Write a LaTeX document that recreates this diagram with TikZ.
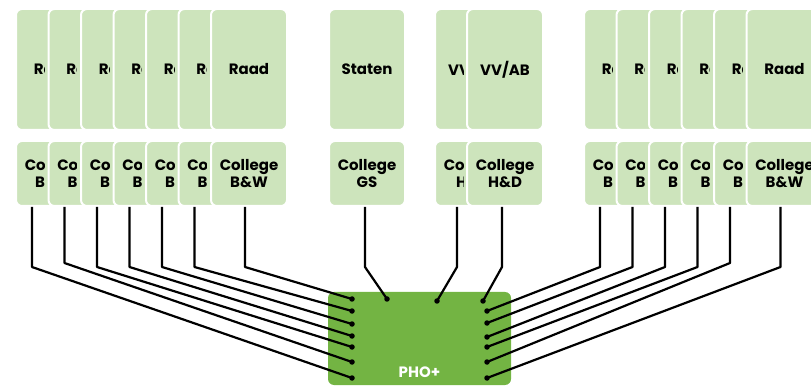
\documentclass[tikz,border=0pt]{standalone}
\usepackage{fontspec}
\setmainfont{Poppins}
\definecolor{cardgreen}{HTML}{CDE4BC}
\definecolor{phogreen}{HTML}{73B443}
\begin{document}
\begin{tikzpicture}[
    x=1pt, y=-1pt,
    font=\bfseries\fontsize{15}{17}\selectfont,
    card/.style={
      fill=cardgreen, draw=white, line width=2pt,
      rounded corners=6pt, align=center,
      minimum width=76pt, inner sep=0pt
    },
    body/.style={card, minimum height=121pt},
    college/.style={card, minimum height=65pt},
    % kaart die half onder de volgende ligt: tekst wordt afgeknipt
    cut/.style={path picture={
        \clip ([xshift=28pt]path picture bounding box.north west)
          rectangle (path picture bounding box.south west);
        \node[align=center] at (path picture bounding box.center) {#1};
      }},
    bodycut/.style={body, cut={#1}},
    collegecut/.style={college, cut={#1}},
    phobox/.style={
      fill=phogreen, rounded corners=6pt,
      minimum width=183pt, minimum height=93pt, inner sep=0pt
    },
    wire/.style={line width=2.2pt, line join=round},
    pin/.style={circle, fill=black, inner sep=0pt, minimum size=5.5pt}
  ]
    \useasboundingbox (0,0) rectangle (811,387);

    % gemeenten links
    \node[bodycut=Raad] (r1) at (54,69.5) {};
    \node[collegecut={College\\B\&W}] (c1) at (54,173.5) {};
    \node[bodycut=Raad] (r2) at (86.5,69.5) {};
    \node[collegecut={College\\B\&W}] (c2) at (86.5,173.5) {};
    \node[bodycut=Raad] (r3) at (119,69.5) {};
    \node[collegecut={College\\B\&W}] (c3) at (119,173.5) {};
    \node[bodycut=Raad] (r4) at (151.5,69.5) {};
    \node[collegecut={College\\B\&W}] (c4) at (151.5,173.5) {};
    \node[bodycut=Raad] (r5) at (184,69.5) {};
    \node[collegecut={College\\B\&W}] (c5) at (184,173.5) {};
    \node[bodycut=Raad] (r6) at (216.5,69.5) {};
    \node[collegecut={College\\B\&W}] (c6) at (216.5,173.5) {};
    \node[body] (r7) at (249,69.5) {Raad};
    \node[college] (c7) at (249,173.5) {College\\B\&W};

    % provincie en waterschappen
    \node[body] (st) at (367,69.5) {Staten};
    \node[college] (gs) at (367,173.5) {College\\GS};
    \node[bodycut=VV/AB] (vv1) at (473,69.5) {};
    \node[collegecut={College\\H\&D}] (hd1) at (473,173.5) {};
    \node[body] (vv2) at (505,69.5) {VV/AB};
    \node[college] (hd2) at (505,173.5) {College\\H\&D};

    % gemeenten rechts
    \node[bodycut=Raad] (s1) at (622,69.5) {};
    \node[collegecut={College\\B\&W}] (k1) at (622,173.5) {};
    \node[bodycut=Raad] (s2) at (654.5,69.5) {};
    \node[collegecut={College\\B\&W}] (k2) at (654.5,173.5) {};
    \node[bodycut=Raad] (s3) at (687,69.5) {};
    \node[collegecut={College\\B\&W}] (k3) at (687,173.5) {};
    \node[bodycut=Raad] (s4) at (719.5,69.5) {};
    \node[collegecut={College\\B\&W}] (k4) at (719.5,173.5) {};
    \node[bodycut=Raad] (s5) at (752,69.5) {};
    \node[collegecut={College\\B\&W}] (k5) at (752,173.5) {};
    \node[body] (s6) at (784.5,69.5) {Raad};
    \node[college] (k6) at (784.5,173.5) {College\\B\&W};

    % PHO+
    \node[phobox, label={[text=white, font=\bfseries\fontsize{15}{18}\selectfont,
      anchor=base, yshift=8pt]south:PHO+}] (pho) at (419.5,338.5) {};

    \node[pin] (pl1) at (352,378) {};
    \node[pin] (pl2) at (352,362) {};
    \node[pin] (pl3) at (352,347) {};
    \node[pin] (pl4) at (352,336) {};
    \node[pin] (pl5) at (352,324) {};
    \node[pin] (pl6) at (352,311) {};
    \node[pin] (pl7) at (352,299) {};
    \node[pin] (pgs) at (387,299) {};
    \node[pin] (phd1) at (437,301) {};
    \node[pin] (phd2) at (483,301) {};
    \node[pin] (pr1) at (487,311) {};
    \node[pin] (pr2) at (487,323) {};
    \node[pin] (pr3) at (487,337) {};
    \node[pin] (pr4) at (487,347) {};
    \node[pin] (pr5) at (487,362) {};
    \node[pin] (pr6) at (487,378) {};

    \draw[wire] ([xshift=17pt]c1.south west) -- ++(0,60) -- (pl1.center);
    \draw[wire] ([xshift=17pt]c2.south west) -- ++(0,56) -- (pl2.center);
    \draw[wire] ([xshift=17pt]c3.south west) -- ++(0,60) -- (pl3.center);
    \draw[wire] ([xshift=17pt]c4.south west) -- ++(0,60) -- (pl4.center);
    \draw[wire] ([xshift=17pt]c5.south west) -- ++(0,60) -- (pl5.center);
    \draw[wire] ([xshift=17pt]c6.south west) -- ++(0,60) -- (pl6.center);
    \draw[wire] ([xshift=35pt]c7.south west) -- ++(0,60) -- (pl7.center);

    \draw[wire] ([xshift=37pt]gs.south west) -- ++(0,60) -- (pgs.center);
    \draw[wire] ([xshift=23pt]hd1.south west) -- ++(0,60) -- (phd1.center);
    \draw[wire] ([xshift=36pt]hd2.south west) -- ++(0,60) -- (phd2.center);

    \draw[wire] ([xshift=17pt]k1.south west) -- ++(0,60) -- (pr1.center);
    \draw[wire] ([xshift=17pt]k2.south west) -- ++(0,60) -- (pr2.center);
    \draw[wire] ([xshift=17pt]k3.south west) -- ++(0,60) -- (pr3.center);
    \draw[wire] ([xshift=17pt]k4.south west) -- ++(0,60) -- (pr4.center);
    \draw[wire] ([xshift=17pt]k5.south west) -- ++(0,56) -- (pr5.center);
    \draw[wire] ([xshift=35pt]k6.south west) -- ++(0,60) -- (pr6.center);
  \end{tikzpicture}
\end{document}
